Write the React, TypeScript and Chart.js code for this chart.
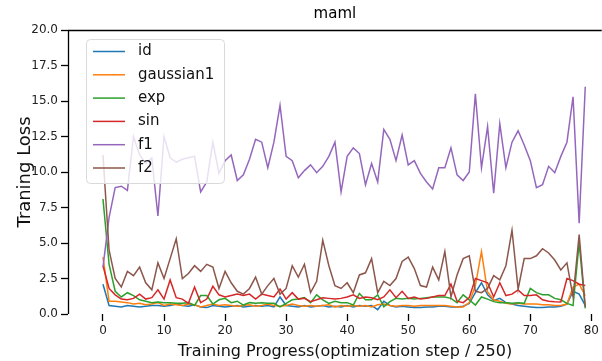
import React, { useEffect, useRef } from "react";
import { Chart, registerables } from "chart.js";

Chart.register(...registerables);

// Training steps (x categories): 0..79
const steps: number[] = Array.from({ length: 80 }, (_, i) => i);

const idLoss = [
  2.1, 0.6, 0.55, 0.5, 0.6, 0.55, 0.5, 0.55, 0.6, 0.6,
  0.55, 0.6, 0.7, 0.6, 0.55, 0.65, 0.5, 0.45, 0.6, 0.55,
  0.5, 0.55, 0.6, 0.5, 0.55, 0.6, 0.55, 0.6, 0.5, 1.2,
  0.6, 0.55, 0.5, 0.6, 0.5, 0.55, 0.6, 0.5, 0.55, 0.5,
  0.6, 0.5, 0.6, 0.55, 0.6, 0.3, 0.9, 0.6, 0.5, 0.55,
  0.5, 0.45, 0.45, 0.5, 0.5, 0.55, 0.55, 0.5, 0.5, 0.55,
  0.75, 1.5, 2.2, 1.35, 0.95, 1.1, 0.8, 0.7, 0.6, 0.55,
  0.5, 0.45, 0.45, 0.5, 0.5, 0.55, 0.7, 1.6, 1.4, 0.6,
];

const gaussian1Loss = [
  4.0, 0.9, 0.9, 0.85, 0.8, 0.7, 0.75, 0.65, 0.7, 0.8,
  0.6, 0.7, 0.65, 0.6, 0.7, 0.65, 0.5, 0.6, 0.7, 0.6,
  0.65, 0.6, 0.55, 0.6, 0.65, 0.55, 0.6, 0.7, 0.6, 0.55,
  0.6, 0.7, 0.6, 0.55, 0.6, 0.55, 0.6, 0.65, 0.5, 0.6,
  0.55, 0.6, 0.55, 0.6, 0.5, 0.65, 0.7, 0.6, 0.55, 0.6,
  0.6, 0.55, 0.6, 0.6, 0.6, 0.6, 0.6, 0.55, 0.5, 0.5,
  0.8, 2.0, 4.4, 1.55, 1.0, 0.9, 0.75, 0.7, 0.75, 0.7,
  0.7, 0.7, 0.65, 0.65, 0.6, 0.6, 0.7, 1.9, 2.1, 1.3,
];

const expLoss = [
  8.1, 3.5, 1.6, 1.2, 1.5, 1.3, 1.0, 0.9, 0.8, 0.85,
  0.8, 0.8, 0.75, 0.75, 0.8, 0.6, 1.3, 1.3, 0.7, 1.0,
  1.1, 0.8, 0.9, 0.63, 0.8, 0.75, 0.8, 0.75, 0.75, 0.5,
  0.75, 1.0, 1.05, 1.15, 0.8, 1.35, 1.0, 0.75, 0.9, 0.8,
  0.8, 0.63, 1.45, 1.0, 1.0, 1.35, 0.5, 0.87, 1.1, 1.05,
  1.1, 1.05, 1.1, 1.15, 1.2, 1.2, 1.2, 1.1, 0.8, 1.35,
  1.0, 0.63, 1.2, 1.05, 0.87, 0.8, 0.8, 0.75, 0.8, 0.75,
  1.8, 1.5, 1.35, 1.35, 1.1, 1.0, 0.75, 0.6, 5.0, 0.4,
];

const sinLoss = [
  3.4, 1.8, 1.35, 1.05, 1.0, 1.1, 1.4, 1.05, 1.15, 1.7,
  1.05, 2.4, 1.15, 1.05, 0.75, 1.9, 0.8, 1.05, 1.95, 1.35,
  1.2, 1.3, 1.4, 1.3, 1.4, 1.05, 1.4, 1.3, 1.2, 1.75,
  1.05, 1.5, 1.05, 1.1, 0.87, 1.0, 1.15, 1.1, 1.05, 1.1,
  1.2, 1.35, 1.1, 1.2, 1.15, 1.0, 1.2, 1.7, 1.15, 1.6,
  1.1, 1.2, 1.05, 1.1, 1.2, 1.3, 1.3, 2.1, 0.9, 0.8,
  1.15, 2.5, 2.35, 2.2, 1.2, 2.2, 1.3, 1.4, 1.7, 1.3,
  1.3, 1.35, 1.0, 0.9, 0.87, 0.85, 2.5, 2.35, 2.1, 2.0,
];

const f1Loss = [
  3.3, 6.8, 8.9, 9.0, 8.7, 12.5, 11.2, 10.6, 11.0, 6.9,
  12.5, 11.0, 10.7, 10.9, 11.0, 11.1, 8.6, 9.3, 12.1, 9.9,
  10.8, 11.2, 9.4, 9.8, 10.9, 12.3, 12.1, 10.3, 12.1, 14.7,
  11.1, 10.8, 9.6, 10.1, 10.5, 9.95, 10.4, 11.1, 12.1, 8.6,
  11.1, 11.7, 11.3, 9.1, 10.6, 9.3, 13.0, 12.3, 10.8, 12.6,
  10.5, 10.8, 9.9, 9.3, 8.8, 10.3, 10.3, 11.7, 9.8, 9.4,
  10.0, 15.5, 10.3, 13.2, 8.5, 13.4, 10.3, 12.1, 12.9, 11.9,
  10.8, 8.9, 9.1, 10.4, 9.95, 11.1, 12.1, 15.3, 6.4, 16.0,
];

const f2Loss = [
  11.2, 4.5, 2.5, 1.9, 3.0, 2.7, 3.3, 2.2, 1.7, 3.6,
  2.5, 3.9, 5.3, 2.5, 2.85, 3.4, 3.0, 3.5, 3.3, 1.8,
  3.0, 2.2, 1.6, 1.4, 1.8, 2.6, 1.4, 2.0, 2.5, 1.4,
  1.8, 3.4, 2.6, 3.5, 1.5, 2.3, 5.2, 3.4, 2.0, 1.8,
  2.2, 1.5, 2.75, 2.9, 3.9, 1.5, 2.3, 2.0, 2.5, 3.7,
  4.0, 3.2, 2.0, 1.9, 3.3, 2.4, 4.4, 1.2, 2.75, 3.9,
  4.1, 1.6, 1.5, 1.8, 2.7, 2.4, 3.4, 5.9, 1.75, 3.9,
  3.9, 4.1, 4.6, 4.3, 3.8, 3.1, 3.6, 1.2, 5.6, 0.5,
];

const seriesNames = ["id", "gaussian1", "exp", "sin", "f1", "f2"];
const seriesValues = [idLoss, gaussian1Loss, expLoss, sinLoss, f1Loss, f2Loss];
const seriesColors = ["#1f77b4", "#ff7f0e", "#2ca02c", "#d62728", "#9467bd", "#8c564b"];

const xTicks = [0, 10, 20, 30, 40, 50, 60, 70, 80];
const chartTitle = "maml";
const xAxisTitle = "Training Progress(optimization step / 250)";
const yAxisTitle = "Traning Loss";

const FONT = "'DejaVu Sans', sans-serif";

const frameAndLegend = {
  id: "frameAndLegend",
  afterDatasetsDraw(chart: any) {
    const { ctx, chartArea } = chart;
    ctx.save();
    // spines: top and left
    ctx.strokeStyle = "#000";
    ctx.lineWidth = 1.3;
    ctx.beginPath();
    ctx.moveTo(chartArea.left, chartArea.top + 0.5);
    ctx.lineTo(chartArea.right, chartArea.top + 0.5);
    ctx.moveTo(chartArea.left + 0.5, chartArea.top);
    ctx.lineTo(chartArea.left + 0.5, chartArea.bottom);
    ctx.stroke();

    // title centred over the axes
    ctx.fillStyle = "#000";
    ctx.font = `15px ${FONT}`;
    ctx.textAlign = "center";
    ctx.textBaseline = "middle";
    ctx.fillText(chartTitle, (chartArea.left + chartArea.right) / 2, 14);

    // x axis title
    ctx.fillStyle = "#111";
    ctx.font = `16px ${FONT}`;
    ctx.fillText(xAxisTitle, 345, 352);

    // legend box
    const bx = 86.5, by = 39.5, bw = 138, bh = 144, r = 4;
    ctx.beginPath();
    ctx.moveTo(bx + r, by);
    ctx.lineTo(bx + bw - r, by);
    ctx.quadraticCurveTo(bx + bw, by, bx + bw, by + r);
    ctx.lineTo(bx + bw, by + bh - r);
    ctx.quadraticCurveTo(bx + bw, by + bh, bx + bw - r, by + bh);
    ctx.lineTo(bx + r, by + bh);
    ctx.quadraticCurveTo(bx, by + bh, bx, by + bh - r);
    ctx.lineTo(bx, by + r);
    ctx.quadraticCurveTo(bx, by, bx + r, by);
    ctx.closePath();
    ctx.fillStyle = "rgba(255,255,255,0.8)";
    ctx.fill();
    ctx.strokeStyle = "#d9d9d9";
    ctx.lineWidth = 1;
    ctx.stroke();

    ctx.font = `15px ${FONT}`;
    ctx.textBaseline = "middle";
    ctx.textAlign = "left";
    chart.data.datasets.forEach((ds: any, k: number) => {
      const y = 51.5 + k * 23.3;
      ctx.strokeStyle = ds.borderColor;
      ctx.lineWidth = 1.5;
      ctx.beginPath();
      ctx.moveTo(93, y);
      ctx.lineTo(125, y);
      ctx.stroke();
      ctx.fillStyle = "#111";
      ctx.fillText(ds.label, 138, y);
    });
    ctx.restore();
  },
};

export default function App() {
  const ref = useRef<HTMLCanvasElement>(null);
  useEffect(() => {
    document.body.style.margin = "0";
    const canvas = ref.current!;
    const chart = new Chart(canvas, {
      type: "line",
      data: {
        datasets: seriesNames.map((name, k) => ({
          label: name,
          data: steps.map((s, i) => ({ x: s, y: seriesValues[k][i] })),
          borderColor: seriesColors[k],
          backgroundColor: seriesColors[k],
          borderWidth: 1.5,
          pointRadius: 0,
          tension: 0,
          fill: false,
          order: seriesNames.length - k,
        })),
      },
      options: {
        responsive: false,
        animation: false,
        layout: { padding: { left: 0, right: 0, top: 30, bottom: 0 } },
        plugins: {
          legend: { display: false },
          tooltip: { enabled: false },
          title: { display: false },
        },
        scales: {
          x: {
            type: "linear",
            min: -5.73,
            max: 81.7,
            afterFit: (s: any) => {
              s.height = 47;
            },
            afterBuildTicks: (s: any) => {
              s.ticks = xTicks.map((v) => ({ value: v }));
            },
            border: { display: false, width: 0 },
            grid: {
              display: true,
              offset: false,
              drawOnChartArea: false,
              drawTicks: true,
              tickLength: 7,
              tickColor: (c: any) =>
                c.tick && xTicks.includes(c.tick.value) ? "#000" : "rgba(0,0,0,0)",
              tickWidth: 1.3,
            },
            ticks: {
              color: "#222",
              font: { family: FONT, size: 12 },
              padding: 3,
              maxRotation: 0,
              autoSkip: false,
            },
            title: { display: false },
          },
          y: {
            min: 0,
            max: 20,
            afterFit: (s: any) => {
              s.width = 68;
            },
            border: { display: false, width: 0 },
            grid: {
              drawOnChartArea: false,
              drawTicks: true,
              tickLength: 7,
              tickColor: "#000",
              tickWidth: 1.3,
            },
            ticks: {
              stepSize: 2.5,
              color: "#222",
              font: { family: FONT, size: 12 },
              padding: 3,
              callback: (v: any) => Number(v).toFixed(1),
            },
            title: {
              display: true,
              text: yAxisTitle,
              color: "#111",
              font: { family: FONT, size: 18 },
              padding: { top: 15, bottom: 0 },
            },
          },
        },
      },
      plugins: [frameAndLegend],
    });
    return () => chart.destroy();
  }, []);
  return (
    <div style={{ width: 602, height: 361 }}>
      <canvas ref={ref} width={602} height={361} style={{ display: "block" }} />
    </div>
  );
}
